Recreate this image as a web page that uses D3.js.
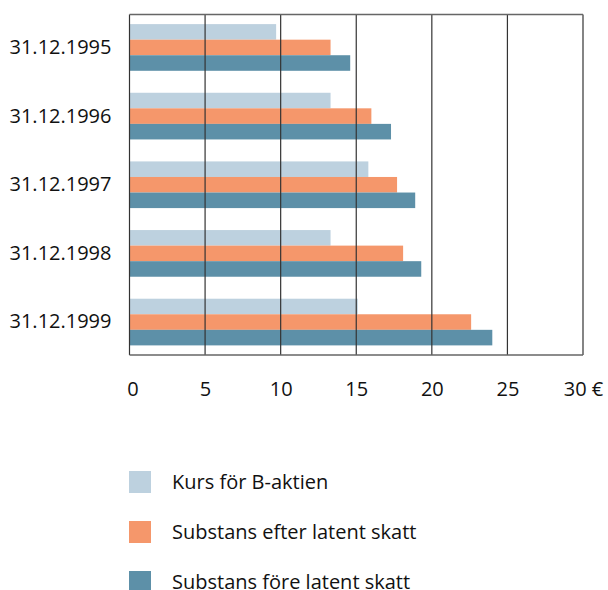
<!DOCTYPE html>
<html>
<head>
<meta charset="utf-8">
<script src="https://cdn.jsdelivr.net/npm/d3@7"></script>
<style>
  body { margin: 0; background: #fff; }
  text { font-family: "Open Sans", "Noto Sans", sans-serif; fill: #111; }
</style>
</head>
<body>
<div id="chart"></div>
<script>
// dates on the y axis
var DATES = ["31.12.1995", "31.12.1996", "31.12.1997", "31.12.1998", "31.12.1999"];
// series, in order from top to bottom within a group
var SERIES = ["Kurs för B-aktien", "Substans efter latent skatt", "Substans före latent skatt"];
var KURS = [9.7, 13.3, 15.8, 13.3, 15.1];
var EFTER = [13.3, 16.0, 17.7, 18.1, 22.6];
var FORE = [14.6, 17.3, 18.9, 19.3, 24.0];
var TICKS = [0, 5, 10, 15, 20, 25, 30];
var COLORS = ["#bdd1df", "#f5976b", "#5d90a8"];

var W = 608, H = 590;
var FONT = "'Open Sans', 'Noto Sans', sans-serif";
var margin = {top: 14.5, left: 129.5, right: 25, bottom: 235};
var width = W - margin.left - margin.right,
    height = H - margin.top - margin.bottom;

var svg = d3.select("#chart").append("svg")
    .attr("width", W)
    .attr("height", H);

var g = svg.append("g")
    .attr("transform", "translate(" + margin.left + "," + margin.top + ")");

var x = d3.scaleLinear().domain([0, 30]).range([0, width]);
var y = d3.scaleBand().domain(DATES).range([0, height])
    .paddingInner(0.32).paddingOuter(0.14);
var y1 = d3.scaleBand().domain(SERIES).range([0, y.bandwidth()]);

var rows = DATES.map(function(d, i) {
  return {date: d, values: [KURS[i], EFTER[i], FORE[i]]};
});

// bars
var grp = g.selectAll(".grp")
  .data(rows)
  .enter().append("g")
    .attr("transform", function(d) { return "translate(0," + y(d.date) + ")"; });

grp.selectAll("rect")
  .data(function(d) { return d.values.map(function(v, j) { return {s: SERIES[j], v: v, c: COLORS[j]}; }); })
  .enter().append("rect")
    .attr("x", 0)
    .attr("y", function(d) { return y1(d.s); })
    .attr("width", function(d) { return x(d.v); })
    .attr("height", y1.bandwidth())
    .attr("fill", function(d) { return d.c; });

// vertical grid lines drawn over the bars
g.selectAll(".grid")
  .data(TICKS)
  .enter().append("line")
    .attr("x1", function(d) { return x(d); })
    .attr("x2", function(d) { return x(d); })
    .attr("y1", 0)
    .attr("y2", height)
    .attr("stroke", "#333")
    .attr("stroke-width", 1.2);

// top and bottom frame
g.append("line").attr("x1", 0).attr("x2", width).attr("y1", 0).attr("y2", 0)
  .attr("stroke", "#666").attr("stroke-width", 1.5);
g.append("line").attr("x1", 0).attr("x2", width).attr("y1", height).attr("y2", height)
  .attr("stroke", "#666").attr("stroke-width", 1.5);

// x tick labels
var xAxis = d3.axisBottom(x)
  .tickValues(TICKS)
  .tickSize(0)
  .tickPadding(27)
  .tickFormat(function(d) { return d === 30 ? "30 €" : d; });

g.append("g")
  .attr("transform", "translate(0," + height + ")")
  .call(xAxis)
  .call(function(a) {
    a.select(".domain").remove();
    a.selectAll("text").style("font-size", "20px").attr("fill", "#111")
      .style("font-family", FONT)
      .attr("dx", function(d) { return d === 0 ? 3 : 0; });
  });

// y labels
var yAxis = d3.axisLeft(y).tickSize(0).tickPadding(18);
g.append("g")
  .call(yAxis)
  .call(function(a) {
    a.select(".domain").remove();
    a.selectAll("text").style("font-size", "20px").attr("fill", "#111")
      .style("font-family", FONT);
  });

// legend
var legend = svg.append("g").attr("transform", "translate(129,471)");
var li = legend.selectAll(".li")
  .data(SERIES)
  .enter().append("g")
    .attr("transform", function(d, i) { return "translate(0," + (i * 50) + ")"; });
li.append("rect")
  .attr("width", 22).attr("height", 22)
  .attr("fill", function(d, i) { return COLORS[i]; });
li.append("text")
  .attr("x", 43).attr("y", 11).attr("dy", "0.35em")
  .style("font-size", "20px")
  .text(function(d) { return d; });
</script>
</body>
</html>
